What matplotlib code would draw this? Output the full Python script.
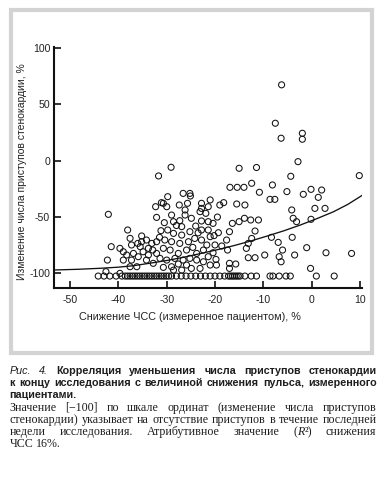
import matplotlib
matplotlib.use("Agg")
import matplotlib.pyplot as plt
from matplotlib.patches import Rectangle

# ---------------- data ----------------
pts_x = [-6.2, -7.5, -6.3, -1.9, -1.9, -2.8, -29.1, -15.0, -11.4,
         -31.7, 9.9, -4.3, -12.4, -16.9, -15.4, -14.0, -8.1, -5.1, -10.8, -1.7, -0.1, 2.1, 1.4, 2.8, 0.7,
         -0.1, -4.1, -3.8, -3.1, -4.0, -3.5, -1.0, 3.0, 8.3, -6.0, -6.7, -6.3, -6.9, -8.6, -7.6, -8.3, -9.7, -0.2,
         -13.8, -15.5,
         -12.6, -11.0, -13.9, -15.0, -16.4, -17.0, -11.7, -12.4, -13.1, -13.5, -13.1, -11.7, -17.0, -15.7, -17.0,
         -17.6, -17.4, -18.6, -18.2, -19.0,
         -21.0, -22.8, -22.8, -21.4, -23.1, -21.9, -22.8, -21.4, -20.4, -22.8, -21.4, -19.3, -21.0, -22.8, -21.7,
         -20.0, -22.4, -20.4, -21.4, -19.8, -22.4, -21.0, -19.7, -23.1,
         -26.6, -25.2, -25.1, -25.7, -27.4, -29.8, -30.0, -30.7, -32.3, -31.1, -29.0, -32.1, -28.6, -27.3, -26.2,
         -24.9, -26.2, -26.9, -29.8, -31.2, -28.6, -26.9, -25.2, -24.2, -25.5, -27.3, -29.0, -30.4, -31.5, -32.1,
         -33.1, -30.7, -29.3, -27.6, -25.9, -24.6, -23.8, -32.1, -32.9, -33.8, -31.4, -30.0, -28.3, -26.6, -25.2,
         -23.8, -32.8, -30.7, -29.0, -27.6, -25.9, -24.9, -26.9, -28.6,
         -42.1, -38.1, -41.5, -42.3, -39.7, -39.0, -37.6, -37.3, -38.3, -36.9, -36.0, -35.2, -35.2, -34.2, -35.5,
         -34.9, -35.9, -37.3, -39.0, -36.2, -37.6, -39.7, -42.6, -34.2, -33.8,
         -28.0, -24.0, -20.2, -23.5, -30.5, -19.5]
pts_y = [67.4, 33.3, 20.0, 24.4, 19.1, -0.8, -5.8, -6.7, -6.0,
         -13.5, -13.2, -13.8, -20.0, -23.6, -23.6, -23.6, -21.5, -27.4, -28.0, -29.8, -25.4, -26.0, -32.5, -42.3, -42.3,
         -52.0, -43.7, -51.1, -54.1, -68.0, -83.7, -77.2, -81.7, -82.3, -79.3, -85.2, -89.7, -72.5, -34.3, -34.3, -68.0, -83.7, -95.6,
         -39.3, -38.4,
         -52.6, -52.6, -51.1, -54.1, -55.6, -63.0, -62.4, -69.0, -73.4, -77.8, -86.1, -86.1, -91.1, -91.7, -95.6,
         -70.4, -79.3, -75.7, -37.2, -39.3,
         -34.8, -37.8, -42.3, -40.8, -45.2, -46.7, -53.5, -54.1, -55.6, -61.5, -61.5, -63.9, -67.4, -70.4, -74.8,
         -74.8, -79.3, -81.7, -85.2, -87.6, -89.7, -92.6, -92.6, -95.6,
         -29.0, -29.0, -31.3, -37.8, -39.3, -31.9, -40.8, -37.8, -40.8, -37.2, -48.2, -50.3, -54.1, -53.2, -48.2,
         -51.1, -43.7, -58.5, -61.5, -62.1, -64.5, -66.0, -63.0, -69.0, -71.9, -73.4, -71.9, -70.4, -68.0, -71.9,
         -73.4, -77.8, -79.3, -82.3, -79.3, -76.9, -82.3, -82.3, -79.3, -83.7, -86.7, -88.2, -86.7, -88.2, -86.7,
         -88.2, -91.1, -94.7, -94.1, -91.7, -92.6, -95.6, -97.1, -97.1,
         -47.6, -61.5, -76.3, -88.2, -77.8, -80.8, -68.9, -74.8, -83.7, -82.3, -73.4, -66.8, -71.9, -70.4, -76.3,
         -80.8, -85.2, -88.2, -88.2, -94.1, -94.1, -100.0, -98.5, -88.2, -77.8,
         -57.5, -58.0, -66.5, -64.0, -55.0, -50.0]

# patients with no attacks in the last week (bottom row)
zero_x = [-44.2, -43.0, -41.8, -40.5, -39.3, -38.6, -38.1, -37.6, -37.1, -36.6, -36.1, -35.6, -35.1, -34.6,
          -34.1, -33.6, -33.1, -32.6, -32.1, -31.6, -31.1, -30.6, -30.1, -29.6, -29.0, -28.0, -27.0, -26.0,
          -25.0, -24.0, -23.0, -22.0, -21.0, -20.0, -19.0, -18.0, -17.2, -16.8, -16.4, -16.0, -15.6, -15.2,
          -14.8, -13.8, -12.5, -11.4, -8.6, -8.0, -6.7, -5.3, -4.4, 1.0, 4.7]
zero_y_value = -102.4

# fitted curve
curve_x = [-53.3, -48.5, -43.8, -40.0, -36.9, -33.5, -30.0, -26.5, -23.1, -19.6, -16.2, -12.7, -9.3, -5.8, -2.4, 1.0, 4.5, 7.5, 10.4]
curve_y = [-97.0, -96.4, -95.5, -94.5, -93.2, -91.0, -88.6, -85.7, -82.5, -79.1, -75.5, -71.4, -67.0, -62.3, -57.2, -51.6, -45.4, -38.8, -31.0]

xticks = [-50, -40, -30, -20, -10, 0, 10]
xtick_labels = ["-50", "-40", "-30", "-20", "-10", "0", "10"]
yticks = [-100, -50, 0, 50, 100]
ytick_labels = ["-100", "-50", "0", "50", "100"]

xlabel = "Снижение ЧСС (измеренное пациентом), %"
ylabel = "Изменение числа приступов стенокардии, %"

# ---------------- figure ----------------
W, H = 380, 479
fig = plt.figure(figsize=(W / 100, H / 100), dpi=100)
fig.patch.set_facecolor("white")

# gray frame
fig.patches.append(Rectangle((11 / W, (H - 353) / H), 361 / W, 343 / H, transform=fig.transFigure,
                             fill=False, edgecolor="#d3d3d3", lw=3.0, zorder=0))

ax = fig.add_axes([54.3 / W, (H - 288) / H, 307.4 / W, 241 / H])
ax.set_xlim(-53.3, 10.4)
ax.set_ylim(-113, 101)
ax.spines["top"].set_visible(False)
ax.spines["right"].set_visible(False)
for s in ("left", "bottom"):
    ax.spines[s].set_linewidth(1.5)
    ax.spines[s].set_color("#111111")

ax.scatter(pts_x, pts_y, s=19, facecolors="none", edgecolors="#111111", linewidths=0.75, zorder=3, clip_on=False)
ax.scatter(zero_x, [zero_y_value] * len(zero_x), s=19, facecolors="none", edgecolors="#111111",
           linewidths=0.75, zorder=3, clip_on=False)
ax.plot(curve_x, curve_y, color="#111111", lw=0.95, zorder=4)

tick_font = dict(family="Liberation Sans", size=7.6)
ax.set_xticks(xticks)
ax.set_xticklabels(xtick_labels, **tick_font)
ax.set_yticks(yticks)
ax.set_yticklabels(ytick_labels, **tick_font)
ax.tick_params(axis="both", direction="in", length=5, width=1.2, color="#111111", labelcolor="#222222")
ax.tick_params(axis="x", pad=5)
ax.tick_params(axis="y", pad=3)

fig.text(190 / W, (H - 317) / H, xlabel, ha="center", va="center", color="#222222",
         family="Liberation Sans", size=7.8)
fig.text(22 / W, (H - 172) / H, ylabel, ha="center", va="center", rotation=90, color="#222222",
         family="Liberation Sans", size=7.5)

# ---------------- caption ----------------
col = "#1e1e1e"
B = dict(family="Liberation Sans", weight="bold", size=8.0, color=col)
I = dict(family="Liberation Sans", style="italic", size=8.0, color=col)
S = dict(family="Liberation Serif", size=9.0, color=col)
SI = dict(family="Liberation Serif", style="italic", size=9.0, color=col)


def words_of(text, props):
    return [[(w, props)] for w in text.split(" ")]


caption_lines = [
    ([[("Рис.", I)], [("4.", I)]] + words_of("Корреляция уменьшения числа приступов стенокардии", B), True, 374),
    (words_of("к концу исследования с величиной снижения пульса, измеренного", B), True, 386),
    (words_of("пациентами.", B), False, 398),
    (words_of("Значение [−100] по шкале ординат (изменение числа приступов", S), True, 411),
    (words_of("стенокардии) указывает на отсутствие приступов в течение последней", S), True, 423),
    (words_of("недели исследования. Атрибутивное значение", S) + [[("(", S), ("R", SI), ("²)", S)]]
     + words_of("снижения", S), True, 435),
    (words_of("ЧСС 16%.", S), False, 447),
]

renderer = fig.canvas.get_renderer()
X0, X1 = 9.5, 376.5


def measure(txt, props):
    t = fig.text(0, 0, txt, **props)
    w = t.get_window_extent(renderer).width
    t.remove()
    return w


def natural_width(words):
    props = words[0][0][1]
    space = measure("a a", props) - measure("aa", props)
    return sum(measure(txt, p) for w in words for txt, p in w) + space * (len(words) - 1)


# the tightest lines of each paragraph set the type size (they fill the measure)
fB = (X1 - X0) * 0.985 / natural_width(caption_lines[1][0])
for p in (B, I):
    p["size"] = p["size"] * fB
fS = (X1 - X0) * 0.985 / natural_width(caption_lines[4][0])
for p in (S, SI):
    p["size"] = p["size"] * fS

for words, justify, base in caption_lines:
    items = []
    for w in words:
        runs = []
        for txt, props in w:
            t = fig.text(0, (H - base) / H, txt, ha="left", va="baseline", **props)
            runs.append((t, t.get_window_extent(renderer).width))
        items.append(runs)
    widths = [sum(r[1] for r in runs) for runs in items]
    props0 = words[0][0][1]
    space = measure("a a", props0) - measure("aa", props0)
    if justify and len(items) > 1:
        gap = max((X1 - X0 - sum(widths)) / (len(items) - 1), 0.6 * space)
    else:
        gap = space
    x = X0
    for runs, wd in zip(items, widths):
        xx = x
        for t, tw in runs:
            t.set_x(xx / W)
            xx += tw
        x += wd + gap

fig.savefig("out.png", dpi=100, facecolor="white")
